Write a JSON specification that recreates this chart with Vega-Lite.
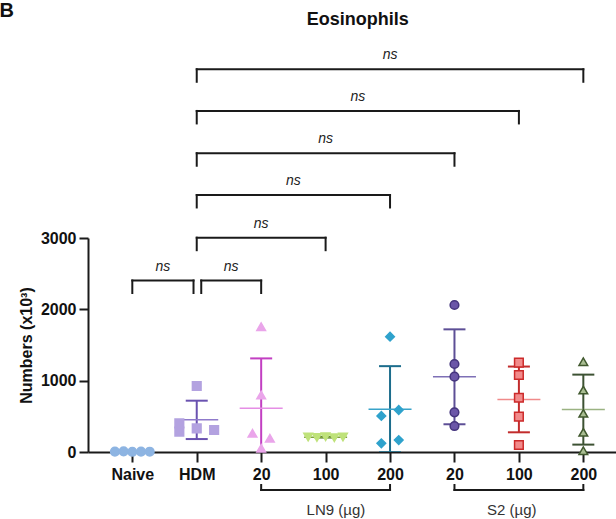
{
  "$schema": "https://vega.github.io/schema/vega-lite/v6.json",
  "autosize": "none",
  "width": 528,
  "height": 214,
  "padding": {"left": 88, "top": 238, "right": 0, "bottom": 67},
  "background": "white",
  "config": {"view": {"stroke": null}, "font": "Liberation Sans", "axis": {"grid": false}},
  "datasets": {
    "cells": [
      {"grp": "Naive", "pos": 1, "lane": -2, "v": 5},
      {"grp": "Naive", "pos": 1, "lane": -1, "v": 8},
      {"grp": "Naive", "pos": 1, "lane": 0, "v": 3},
      {"grp": "Naive", "pos": 1, "lane": 1, "v": 6},
      {"grp": "Naive", "pos": 1, "lane": 2, "v": 4},
      {"grp": "HDM", "pos": 2, "lane": -2, "v": 402},
      {"grp": "HDM", "pos": 2, "lane": -2, "v": 285},
      {"grp": "HDM", "pos": 2, "lane": 0, "v": 925},
      {"grp": "HDM", "pos": 2, "lane": 0, "v": 332},
      {"grp": "HDM", "pos": 2, "lane": 2, "v": 308},
      {"grp": "LN9 20", "pos": 3, "lane": 0, "v": 1757},
      {"grp": "LN9 20", "pos": 3, "lane": 0, "v": 799},
      {"grp": "LN9 20", "pos": 3, "lane": -1, "v": 262},
      {"grp": "LN9 20", "pos": 3, "lane": 1, "v": 192},
      {"grp": "LN9 20", "pos": 3, "lane": 0, "v": 52},
      {"grp": "LN9 100", "pos": 4, "lane": -2, "v": 210},
      {"grp": "LN9 100", "pos": 4, "lane": -1, "v": 205},
      {"grp": "LN9 100", "pos": 4, "lane": 0, "v": 215},
      {"grp": "LN9 100", "pos": 4, "lane": 1, "v": 200},
      {"grp": "LN9 100", "pos": 4, "lane": 2, "v": 210},
      {"grp": "LN9 200", "pos": 5, "lane": 0, "v": 1616},
      {"grp": "LN9 200", "pos": 5, "lane": -1, "v": 505},
      {"grp": "LN9 200", "pos": 5, "lane": 1, "v": 589},
      {"grp": "LN9 200", "pos": 5, "lane": -1, "v": 122},
      {"grp": "LN9 200", "pos": 5, "lane": 1, "v": 168},
      {"grp": "S2 20", "pos": 6, "lane": 0, "v": 2061},
      {"grp": "S2 20", "pos": 6, "lane": 0, "v": 1234},
      {"grp": "S2 20", "pos": 6, "lane": 0, "v": 1056},
      {"grp": "S2 20", "pos": 6, "lane": 0, "v": 556},
      {"grp": "S2 20", "pos": 6, "lane": 0, "v": 364},
      {"grp": "S2 100", "pos": 7, "lane": 0, "v": 1252},
      {"grp": "S2 100", "pos": 7, "lane": 0, "v": 1079},
      {"grp": "S2 100", "pos": 7, "lane": 0, "v": 761},
      {"grp": "S2 100", "pos": 7, "lane": 0, "v": 495},
      {"grp": "S2 100", "pos": 7, "lane": 0, "v": 98},
      {"grp": "S2 200", "pos": 8, "lane": 0, "v": 1266},
      {"grp": "S2 200", "pos": 8, "lane": 0, "v": 869},
      {"grp": "S2 200", "pos": 8, "lane": 0, "v": 542},
      {"grp": "S2 200", "pos": 8, "lane": 0, "v": 276},
      {"grp": "S2 200", "pos": 8, "lane": 0, "v": 18}
    ],
    "sig": [
      {"a": 1, "b": 1.95, "y": 2404, "t": 2229, "lab": "ns"},
      {"a": 2.07, "b": 3, "y": 2404, "t": 2229, "lab": "ns"},
      {"a": 2, "b": 4, "y": 3004, "t": 2829, "lab": "ns"},
      {"a": 2, "b": 5, "y": 3603, "t": 3428, "lab": "ns"},
      {"a": 2, "b": 6, "y": 4188, "t": 4013, "lab": "ns"},
      {"a": 2, "b": 7, "y": 4781, "t": 4606, "lab": "ns"},
      {"a": 2, "b": 8, "y": 5365, "t": 5190, "lab": "ns"}
    ],
    "groups": [
      {"a": 3, "b": 5, "y": -533, "t": -463, "lab": "LN9 (µg)", "lx": 4.16, "ly": -883},
      {"a": 6, "b": 8, "y": -533, "t": -463, "lab": "S2 (µg)", "lx": 6.89, "ly": -883}
    ],
    "heads": [
      {"txt": "Eosinophils", "x": 4.5, "y": 5986}
    ],
    "panel": [
      {"txt": "B", "x": -1.06, "y": 6098}
    ]
  },
  "resolve": {"scale": {"color": "independent", "fill": "independent", "stroke": "independent", "shape": "independent"}},
  "layer": [
    {
      "data": {"name": "sig"},
      "mark": {"type": "rule", "strokeWidth": 2, "color": "#1a1a1a", "strokeCap": "square"},
      "encoding": {
        "x": {"field": "a", "type": "quantitative", "scale": {"domain": [0.3124, 8.507], "nice": false, "zero": false},
          "axis": {"values": [1, 2, 3, 4, 5, 6, 7, 8], "labelExpr": "['Naive','HDM','20','100','200','20','100','200'][datum.value-1]", "title": null, "grid": false, "domainColor": "#1a1a1a", "domainWidth": 2, "tickColor": "#1a1a1a", "tickWidth": 2, "tickSize": 10, "labelFontSize": 16, "labelFontWeight": "bold", "labelColor": "#111111", "labelPadding": 4, "labelFlush": false, "labelOverlap": false}},
        "x2": {"field": "b"},
        "y": {"field": "y", "type": "quantitative", "scale": {"domain": [0, 3000], "nice": false, "zero": true},
          "axis": {"values": [0, 1000, 2000, 3000], "format": "d", "title": "Numbers (x10³)", "titleFontSize": 16, "titleFontWeight": "bold", "titleColor": "#111111", "titleX": -57, "titleY": 107, "titleAngle": 270, "titleAlign": "center", "titleBaseline": "alphabetic", "grid": false, "domainColor": "#1a1a1a", "domainWidth": 2, "tickColor": "#1a1a1a", "tickWidth": 2, "tickSize": 9, "labelFontSize": 16, "labelFontWeight": "bold", "labelColor": "#111111", "labelPadding": 3}}
      }
    },
    {
      "data": {"name": "sig"},
      "mark": {"type": "rule", "strokeWidth": 2, "color": "#1a1a1a", "strokeCap": "square"},
      "encoding": {
        "x": {"field": "a", "type": "quantitative", "scale": {"domain": [0.3124, 8.507], "nice": false, "zero": false}, "axis": {"title": null}},
        "y": {"field": "y", "type": "quantitative", "scale": {"domain": [0, 3000], "nice": false}, "axis": {"title": "Numbers (x10³)"}},
        "y2": {"field": "t"}
      }
    },
    {
      "data": {"name": "sig"},
      "mark": {"type": "rule", "strokeWidth": 2, "color": "#1a1a1a", "strokeCap": "square"},
      "encoding": {
        "x": {"field": "b", "type": "quantitative", "scale": {"domain": [0.3124, 8.507], "nice": false, "zero": false}, "axis": {"title": null}},
        "y": {"field": "y", "type": "quantitative", "scale": {"domain": [0, 3000], "nice": false}, "axis": {"title": "Numbers (x10³)"}},
        "y2": {"field": "t"}
      }
    },
    {
      "data": {"name": "sig"},
      "transform": [{"calculate": "(datum.a + datum.b) / 2", "as": "mid"}, {"calculate": "datum.y + 140", "as": "ty"}],
      "mark": {"type": "text", "fontStyle": "italic", "fontSize": 14, "color": "#222222", "baseline": "alphabetic", "align": "center"},
      "encoding": {
        "x": {"field": "mid", "type": "quantitative", "scale": {"domain": [0.3124, 8.507], "nice": false, "zero": false}, "axis": {"title": null}},
        "y": {"field": "ty", "type": "quantitative", "scale": {"domain": [0, 3000], "nice": false}, "axis": {"title": "Numbers (x10³)"}},
        "text": {"field": "lab"}
      }
    },
    {
      "data": {"name": "groups"},
      "mark": {"type": "rule", "strokeWidth": 2, "color": "#1a1a1a", "strokeCap": "square"},
      "encoding": {
        "x": {"field": "a", "type": "quantitative", "scale": {"domain": [0.3124, 8.507], "nice": false, "zero": false}, "axis": {"title": null}},
        "x2": {"field": "b"},
        "y": {"field": "y", "type": "quantitative", "scale": {"domain": [0, 3000], "nice": false}, "axis": {"title": "Numbers (x10³)"}}
      }
    },
    {
      "data": {"name": "groups"},
      "mark": {"type": "rule", "strokeWidth": 2, "color": "#1a1a1a", "strokeCap": "square"},
      "encoding": {
        "x": {"field": "a", "type": "quantitative", "scale": {"domain": [0.3124, 8.507], "nice": false, "zero": false}, "axis": {"title": null}},
        "y": {"field": "y", "type": "quantitative", "scale": {"domain": [0, 3000], "nice": false}, "axis": {"title": "Numbers (x10³)"}},
        "y2": {"field": "t"}
      }
    },
    {
      "data": {"name": "groups"},
      "mark": {"type": "rule", "strokeWidth": 2, "color": "#1a1a1a", "strokeCap": "square"},
      "encoding": {
        "x": {"field": "b", "type": "quantitative", "scale": {"domain": [0.3124, 8.507], "nice": false, "zero": false}, "axis": {"title": null}},
        "y": {"field": "y", "type": "quantitative", "scale": {"domain": [0, 3000], "nice": false}, "axis": {"title": "Numbers (x10³)"}},
        "y2": {"field": "t"}
      }
    },
    {
      "data": {"name": "groups"},
      "mark": {"type": "text", "fontSize": 15, "color": "#333333", "baseline": "alphabetic", "align": "center"},
      "encoding": {
        "x": {"field": "lx", "type": "quantitative", "scale": {"domain": [0.3124, 8.507], "nice": false, "zero": false}, "axis": {"title": null}},
        "y": {"field": "ly", "type": "quantitative", "scale": {"domain": [0, 3000], "nice": false}, "axis": {"title": "Numbers (x10³)"}},
        "text": {"field": "lab"}
      }
    },
    {
      "data": {"name": "heads"},
      "mark": {"type": "text", "fontSize": 18, "fontWeight": "bold", "color": "#111111", "baseline": "alphabetic", "align": "center"},
      "encoding": {
        "x": {"field": "x", "type": "quantitative", "scale": {"domain": [0.3124, 8.507], "nice": false, "zero": false}, "axis": {"title": null}},
        "y": {"field": "y", "type": "quantitative", "scale": {"domain": [0, 3000], "nice": false}, "axis": {"title": "Numbers (x10³)"}},
        "text": {"field": "txt"}
      }
    },
    {
      "data": {"name": "panel"},
      "mark": {"type": "text", "fontSize": 20, "fontWeight": "bold", "color": "#111111", "baseline": "alphabetic", "align": "left"},
      "encoding": {
        "x": {"field": "x", "type": "quantitative", "scale": {"domain": [0.3124, 8.507], "nice": false, "zero": false}, "axis": {"title": null}},
        "y": {"field": "y", "type": "quantitative", "scale": {"domain": [0, 3000], "nice": false}, "axis": {"title": "Numbers (x10³)"}},
        "text": {"field": "txt"}
      }
    },
    {
      "data": {"name": "cells"},
      "transform": [
        {"aggregate": [{"op": "mean", "field": "v", "as": "m"}, {"op": "stdev", "field": "v", "as": "sd"}], "groupby": ["grp", "pos"]},
        {"calculate": "datum.m - datum.sd", "as": "lo"},
        {"calculate": "datum.m + datum.sd", "as": "hi"}
      ],
      "mark": {"type": "rule", "strokeWidth": 2, "clip": true},
      "encoding": {
        "x": {"field": "pos", "type": "quantitative", "scale": {"domain": [0.3124, 8.507], "nice": false, "zero": false}, "axis": {"title": null}},
        "y": {"field": "lo", "type": "quantitative", "scale": {"domain": [0, 3000], "nice": false}, "axis": {"title": "Numbers (x10³)"}},
        "y2": {"field": "hi"},
        "color": {"field": "grp", "type": "nominal", "legend": null, "scale": {"domain": ["Naive", "HDM", "LN9 20", "LN9 100", "LN9 200", "S2 20", "S2 100", "S2 200"], "range": ["#8db4e2", "#6a52b0", "#c23fc2", "#4f7f2a", "#1c6d8c", "#5d4f96", "#c22c2c", "#3d5233"]}}
      }
    },
    {
      "data": {"name": "cells"},
      "transform": [
        {"aggregate": [{"op": "mean", "field": "v", "as": "m"}, {"op": "stdev", "field": "v", "as": "sd"}], "groupby": ["grp", "pos"]},
        {"calculate": "datum.m + datum.sd", "as": "hi"}
      ],
      "mark": {"type": "tick", "orient": "horizontal", "size": 22, "thickness": 2, "opacity": 1, "clip": true},
      "encoding": {
        "x": {"field": "pos", "type": "quantitative", "scale": {"domain": [0.3124, 8.507], "nice": false, "zero": false}, "axis": {"title": null}},
        "y": {"field": "hi", "type": "quantitative", "scale": {"domain": [0, 3000], "nice": false}, "axis": {"title": "Numbers (x10³)"}},
        "color": {"field": "grp", "type": "nominal", "legend": null, "scale": {"domain": ["Naive", "HDM", "LN9 20", "LN9 100", "LN9 200", "S2 20", "S2 100", "S2 200"], "range": ["#8db4e2", "#6a52b0", "#c23fc2", "#4f7f2a", "#1c6d8c", "#5d4f96", "#c22c2c", "#3d5233"]}}
      }
    },
    {
      "data": {"name": "cells"},
      "transform": [
        {"aggregate": [{"op": "mean", "field": "v", "as": "m"}, {"op": "stdev", "field": "v", "as": "sd"}], "groupby": ["grp", "pos"]},
        {"calculate": "datum.m - datum.sd", "as": "lo"}
      ],
      "mark": {"type": "tick", "orient": "horizontal", "size": 22, "thickness": 2, "opacity": 1, "clip": true},
      "encoding": {
        "x": {"field": "pos", "type": "quantitative", "scale": {"domain": [0.3124, 8.507], "nice": false, "zero": false}, "axis": {"title": null}},
        "y": {"field": "lo", "type": "quantitative", "scale": {"domain": [0, 3000], "nice": false}, "axis": {"title": "Numbers (x10³)"}},
        "color": {"field": "grp", "type": "nominal", "legend": null, "scale": {"domain": ["Naive", "HDM", "LN9 20", "LN9 100", "LN9 200", "S2 20", "S2 100", "S2 200"], "range": ["#8db4e2", "#6a52b0", "#c23fc2", "#4f7f2a", "#1c6d8c", "#5d4f96", "#c22c2c", "#3d5233"]}}
      }
    },
    {
      "data": {"name": "cells"},
      "transform": [
        {"aggregate": [{"op": "mean", "field": "v", "as": "m"}], "groupby": ["grp", "pos"]}
      ],
      "mark": {"type": "tick", "orient": "horizontal", "size": 43, "thickness": 1.5, "opacity": 1},
      "encoding": {
        "x": {"field": "pos", "type": "quantitative", "scale": {"domain": [0.3124, 8.507], "nice": false, "zero": false}, "axis": {"title": null}},
        "y": {"field": "m", "type": "quantitative", "scale": {"domain": [0, 3000], "nice": false}, "axis": {"title": "Numbers (x10³)"}},
        "color": {"field": "grp", "type": "nominal", "legend": null, "scale": {"domain": ["Naive", "HDM", "LN9 20", "LN9 100", "LN9 200", "S2 20", "S2 100", "S2 200"], "range": ["#a9c6ea", "#8f7acb", "#e58ee5", "#7fa040", "#39a3c9", "#7e70b6", "#f08a8a", "#9bb383"]}}
      }
    },
    {
      "data": {"name": "cells"},
      "transform": [{"calculate": "datum.pos + datum.lane * 0.135", "as": "px"}],
      "mark": {"type": "point", "filled": true, "size": 75, "strokeWidth": 1.5, "opacity": 1},
      "encoding": {
        "x": {"field": "px", "type": "quantitative", "scale": {"domain": [0.3124, 8.507], "nice": false, "zero": false}, "axis": {"title": null}},
        "y": {"field": "v", "type": "quantitative", "scale": {"domain": [0, 3000], "nice": false}, "axis": {"title": "Numbers (x10³)"}},
        "shape": {"field": "grp", "type": "nominal", "legend": null, "scale": {"domain": ["Naive", "HDM", "LN9 20", "LN9 100", "LN9 200", "S2 20", "S2 100", "S2 200"], "range": ["circle", "square", "triangle-up", "triangle-down", "diamond", "circle", "square", "triangle-up"]}},
        "fill": {"field": "grp", "type": "nominal", "legend": null, "scale": {"domain": ["Naive", "HDM", "LN9 20", "LN9 100", "LN9 200", "S2 20", "S2 100", "S2 200"], "range": ["#8db4e2", "#b3a2e0", "#eaa5ea", "#bfe27a", "#2fa2cc", "#6b56a8", "#f28b8b", "#a9bd92"]}},
        "stroke": {"field": "grp", "type": "nominal", "legend": null, "scale": {"domain": ["Naive", "HDM", "LN9 20", "LN9 100", "LN9 200", "S2 20", "S2 100", "S2 200"], "range": ["#8db4e2", "#b3a2e0", "#eaa5ea", "#bfe27a", "#2fa2cc", "#45357e", "#cc2a2a", "#41592f"]}}
      }
    }
  ]
}
